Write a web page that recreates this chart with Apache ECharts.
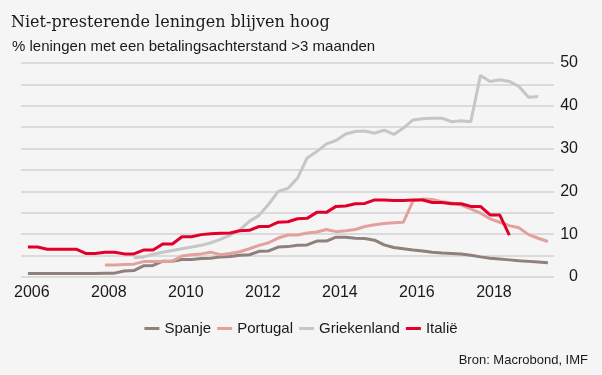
<!DOCTYPE html>
<html>
<head>
<meta charset="utf-8">
<script src="https://cdn.jsdelivr.net/npm/echarts@6/dist/echarts.min.js"></script>
<style>
  html, body { margin: 0; padding: 0; background: #f5f5f5; }
  #chart { width: 602px; height: 375px; }
</style>
</head>
<body>
<div id="chart"></div>
<script>
// quarterly observations, first one at the end of 2005
const firstQuarter = 2005.9
const yearTicks = [2006, 2008, 2010, 2012, 2014, 2016, 2018]

const spanje = [0.8, 0.8, 0.8, 0.8, 0.8, 0.8, 0.8, 0.8, 0.9, 0.9, 1.4, 1.5,
  2.6, 2.7, 3.7, 3.7, 4.1, 4.1, 4.3, 4.4, 4.7, 4.8, 5.1, 5.2, 6.0, 6.1, 7.0, 7.1,
  7.4, 7.5, 8.4, 8.4, 9.3, 9.3, 9.05, 9.0, 8.6, 7.5, 6.9, 6.6, 6.3, 6.1, 5.8, 5.6,
  5.5, 5.35, 5.1, 4.7, 4.4, 4.2, 4.0, 3.8, 3.65, 3.5, 3.35]

const portugal = [null, null, null, null, null, null, null, null, 2.8, 2.8, 2.9, 3.0,
  3.6, 3.6, 3.6, 3.7, 4.9, 5.2, 5.4, 5.8, 5.2, 5.5, 5.9, 6.6, 7.4, 8.0, 9.1, 9.8,
  9.8, 10.3, 10.5, 11.1, 10.6, 10.8, 11.1, 11.8, 12.2, 12.5, 12.7, 12.8, 17.8, 18.2, 18.1, 17.6,
  17.3, 16.8, 15.9, 14.9, 13.6, 12.8, 12.0, 11.5, 9.9, 9.05, 8.3]

const griekenland = [null, null, null, null, null, null, null, null, null, null, null, 4.5,
  4.7, 5.3, 5.8, 6.2, 6.6, 7.0, 7.4, 8.0, 8.8, 9.8, 11.0, 13.0, 14.4, 17.0, 20.0, 20.7,
  23.1, 27.8, 29.3, 31.1, 31.9, 33.4, 34.0, 34.1, 33.6, 34.3, 33.3, 34.8, 36.7, 37.0, 37.1, 37.1,
  36.3, 36.5, 36.3, 47.1, 45.7, 46.1, 45.7, 44.5, 42.0, 42.2]

const italie = [7.0, 7.0, 6.5, 6.5, 6.5, 6.5, 5.5, 5.5, 5.8, 5.8, 5.4, 5.4,
  6.3, 6.3, 7.7, 7.7, 9.4, 9.4, 9.9, 10.1, 10.2, 10.3, 10.8, 10.9, 11.8, 11.8, 12.8, 12.9,
  13.6, 13.7, 15.1, 15.1, 16.5, 16.6, 17.1, 17.2, 18.0, 18.0, 17.9, 17.9, 18.0, 18.0, 17.4, 17.4,
  17.1, 17.1, 16.5, 16.5, 14.5, 14.5, 9.8]

const toPairs = (values) => values.map((v, i) => [firstQuarter + i * 0.25, v])

const chartDom = document.getElementById('chart')
const myChart = echarts.init(chartDom)

const sans = 'Liberation Sans'

const line = (name, values, color) => ({
  name,
  type: 'line',
  data: toPairs(values),
  showSymbol: false,
  connectNulls: false,
  lineStyle: { color, width: 3 },
  itemStyle: { color },
  emphasis: { disabled: true },
})

const option = {
  backgroundColor: '#f5f5f5',
  animation: false,
  title: [
    {
      text: 'Niet-presterende leningen blijven hoog',
      left: 6,
      top: 10,
      textStyle: { fontFamily: 'DejaVu Serif', fontSize: 16, fontWeight: 'normal', color: '#1a1a1a' },
    },
    {
      text: '% leningen met een betalingsachterstand >3 maanden',
      left: 7,
      top: 34,
      textStyle: { fontFamily: sans, fontSize: 15, fontWeight: 'normal', color: '#1a1a1a' },
    },
    {
      text: 'Bron: Macrobond, IMF',
      right: 9,
      top: 349,
      textStyle: { fontFamily: sans, fontSize: 13, fontWeight: 'normal', color: '#1a1a1a' },
    },
  ],
  legend: {
    left: 'center',
    top: 316,
    icon: 'rect',
    itemWidth: 15,
    itemHeight: 3,
    itemGap: 6,
    textStyle: { fontFamily: sans, fontSize: 15, color: '#1a1a1a' },
    data: ['Spanje', 'Portugal', 'Griekenland', 'Italië'],
  },
  grid: { left: 21, right: 48, top: 63, bottom: 98 },
  xAxis: {
    type: 'value',
    min: 2005.72,
    max: 2019.56,
    axisLine: { show: false },
    axisTick: { show: false },
    splitLine: { show: false },
    axisLabel: {
      customValues: yearTicks,
      margin: 8,
      fontFamily: sans,
      fontSize: 16,
      color: '#1a1a1a',
      formatter: (v) => String(v),
    },
  },
  yAxis: {
    type: 'value',
    position: 'right',
    min: 0,
    max: 50,
    interval: 5,
    axisLine: { show: false },
    axisTick: { show: false },
    splitLine: { lineStyle: { color: '#d2d2d2', width: 1.5 } },
    axisLabel: {
      align: 'right',
      margin: 24,
      fontFamily: sans,
      fontSize: 16,
      color: '#1a1a1a',
      formatter: (v) => (v % 10 === 0 ? String(v) : ''),
    },
  },
  series: [
    line('Spanje', spanje, '#8f807b'),
    line('Portugal', portugal, '#e3a19e'),
    line('Griekenland', griekenland, '#c6c6c6'),
    line('Italië', italie, '#e2002b'),
  ],
}

myChart.setOption(option)

window.addEventListener('resize', () => {
  myChart.resize()
})
</script>
</body>
</html>
